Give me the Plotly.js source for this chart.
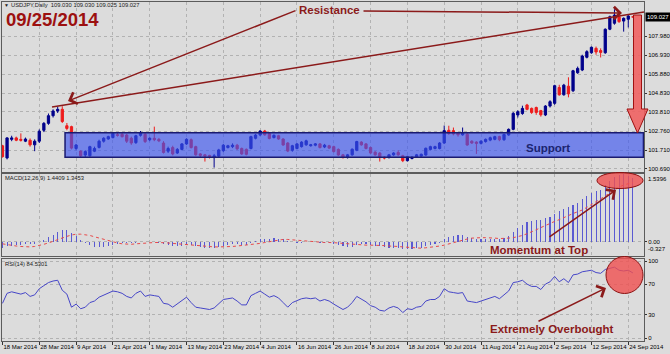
<!DOCTYPE html>
<html><head><meta charset="utf-8">
<script src="https://cdn.plot.ly/plotly-3.0.1.min.js"></script>
<style>html,body{margin:0;padding:0;background:#dcdcdc;}#chart{width:670px;height:354px;}</style>
</head><body><div id="chart"></div>
<script>
const tickLabels = ['18 Mar 2014','28 Mar 2014','9 Apr 2014','21 Apr 2014','1 May 2014','13 May 2014','23 May 2014','4 Jun 2014','16 Jun 2014','26 Jun 2014','8 Jul 2014','18 Jul 2014','30 Jul 2014','11 Aug 2014','21 Aug 2014','2 Sep 2014','12 Sep 2014','24 Sep 2014'];
const priceTicks = [107.98,106.93,105.88,104.83,103.81,102.76,101.71,100.69];

const open = [101.95,101.28,102.30,102.38,102.30,102.20,102.25,102.00,102.20,102.80,
103.18,103.60,103.86,103.95,103.05,103.00,101.80,101.66,101.44,101.40,
101.65,101.86,102.20,102.32,102.40,102.56,102.58,102.54,102.36,102.12,
102.52,102.58,102.28,102.36,102.30,102.10,101.65,101.85,101.55,101.75,
102.05,102.28,101.90,101.50,101.45,101.42,101.30,101.38,101.68,101.85,
101.90,101.98,101.80,101.75,101.80,102.36,102.54,102.76,102.62,102.40,
102.50,102.32,102.10,101.70,101.80,101.90,102.00,101.95,101.98,102.05,
101.88,101.95,101.90,101.75,101.45,101.30,101.45,101.70,102.15,102.05,
101.85,101.60,101.55,101.32,101.30,101.45,101.58,101.40,101.13,101.25,
101.35,101.38,101.44,101.75,101.80,101.80,102.10,102.80,102.78,102.65,
102.55,102.58,102.20,102.15,102.08,102.18,102.26,102.30,102.45,102.28,
102.54,102.85,103.64,103.72,104.19,104.00,104.05,103.88,103.64,104.13,
104.28,105.15,104.75,105.22,104.97,105.96,106.11,106.81,107.06,107.30,
107.18,107.06,108.35,108.68,109.04,108.80,108.90,109.030];
const high = [102.00,102.42,102.50,102.45,102.63,102.40,102.35,102.30,102.85,103.25,
103.72,103.95,104.10,104.12,103.20,103.05,102.05,101.70,101.70,101.95,
101.90,102.28,102.42,102.50,102.70,102.65,102.65,102.60,102.45,102.55,
102.76,102.65,102.42,103.00,102.38,102.20,101.90,101.95,101.82,102.10,
102.36,102.35,101.95,101.55,101.50,101.45,101.50,101.78,102.05,102.00,
102.08,102.05,101.85,101.80,102.50,102.60,102.80,102.82,102.68,102.58,
102.55,102.36,102.15,102.00,102.10,102.20,102.28,102.05,102.10,102.10,
102.05,102.00,101.95,101.80,101.50,101.50,101.80,102.22,102.20,102.10,
101.90,101.65,101.60,101.38,101.50,101.60,101.70,101.45,101.40,101.38,
101.50,101.52,101.85,101.95,101.95,102.15,103.06,103.05,102.95,102.70,
102.95,102.65,102.25,102.20,102.25,102.35,102.45,102.50,102.50,102.62,
102.90,103.80,103.90,104.15,104.25,104.05,104.10,103.92,104.18,104.45,
105.30,105.30,105.35,105.71,106.12,106.30,106.95,107.20,107.40,107.40,
107.30,108.40,109.10,109.45,109.10,109.00,109.12,109.030];
const low = [101.30,101.20,102.20,102.20,102.18,102.15,101.90,101.65,102.10,102.70,
103.10,103.50,103.75,103.20,102.80,101.75,101.70,101.30,101.30,101.35,
101.60,101.80,102.12,102.28,102.35,102.45,102.40,102.10,102.00,102.05,
102.45,102.10,102.20,102.20,102.15,101.52,101.55,101.42,101.50,101.70,
102.00,101.80,101.40,101.30,101.08,101.25,100.75,101.30,101.60,101.80,
101.82,101.72,101.45,101.42,101.75,102.30,102.48,102.50,102.30,102.35,
102.28,101.95,101.60,101.62,101.75,101.85,101.95,101.90,101.92,101.80,
101.82,101.78,101.58,101.40,101.25,101.25,101.40,101.65,101.95,101.75,
101.50,101.40,101.08,101.20,101.25,101.40,101.40,101.05,101.08,101.20,
101.30,101.32,101.40,101.70,101.75,101.75,102.05,102.55,102.52,102.45,
102.50,101.95,102.05,101.50,102.02,102.12,102.20,102.25,102.20,102.22,
102.50,102.80,103.50,103.65,103.90,103.70,103.65,103.55,103.58,104.05,
104.20,104.70,104.70,104.61,104.90,105.90,106.05,106.75,107.00,106.95,
106.80,107.00,108.30,108.60,108.70,108.22,108.45,109.025];
const close = [101.35,102.38,102.38,102.25,102.25,102.32,102.00,102.20,102.75,103.18,
103.60,103.86,103.95,103.28,102.90,101.82,101.99,101.40,101.63,101.90,
101.80,102.20,102.36,102.45,102.63,102.52,102.45,102.20,102.10,102.50,
102.68,102.18,102.36,102.28,102.22,101.58,101.80,101.50,101.75,102.05,
102.30,101.85,101.45,101.42,101.38,101.35,101.40,101.72,101.98,101.95,
101.98,101.78,101.50,101.48,102.45,102.54,102.76,102.55,102.35,102.52,
102.32,101.99,101.66,101.95,102.05,102.15,102.22,102.00,102.05,101.85,
101.98,101.82,101.63,101.44,101.30,101.45,101.76,102.18,102.00,101.80,
101.55,101.45,101.30,101.28,101.45,101.55,101.45,101.13,101.35,101.32,
101.45,101.48,101.81,101.90,101.90,102.10,102.78,102.62,102.60,102.55,
102.65,101.99,102.10,102.08,102.20,102.30,102.39,102.45,102.28,102.57,
102.85,103.73,103.82,104.00,103.95,103.78,103.78,103.65,104.13,104.37,
105.25,104.75,105.28,104.80,106.07,106.20,106.88,107.12,107.36,107.10,
107.08,108.35,109.04,109.13,108.77,108.95,109.08,109.027];

const macdMain = [-0.14,-0.11,-0.09,-0.08,-0.07,-0.06,-0.06,-0.05,-0.01,0.04,
0.10,0.16,0.22,0.26,0.27,0.19,0.12,0.04,-0.03,-0.08,
-0.12,-0.13,-0.12,-0.10,-0.07,-0.05,-0.04,-0.04,-0.04,-0.02,
0.00,-0.01,-0.01,-0.01,-0.02,-0.05,-0.07,-0.10,-0.10,-0.09,
-0.07,-0.08,-0.10,-0.12,-0.14,-0.15,-0.15,-0.13,-0.10,-0.08,
-0.06,-0.06,-0.07,-0.07,-0.03,0.01,0.05,0.07,0.07,0.08,
0.07,0.05,0.01,-0.01,-0.02,-0.02,-0.01,-0.01,-0.01,-0.02,
-0.02,-0.03,-0.05,-0.08,-0.10,-0.12,-0.12,-0.08,-0.06,-0.06,
-0.07,-0.09,-0.11,-0.13,-0.14,-0.14,-0.14,-0.16,-0.16,-0.16,
-0.15,-0.14,-0.10,-0.07,-0.05,-0.02,0.06,0.10,0.13,0.14,
0.15,0.11,0.08,0.06,0.05,0.05,0.06,0.07,0.07,0.09,
0.12,0.22,0.30,0.38,0.44,0.47,0.50,0.50,0.53,0.57,
0.62,0.70,0.75,0.78,0.84,0.88,0.96,1.04,1.11,1.15,
1.18,1.28,1.38,1.47,1.52,1.54,1.50,1.4409];
const macdSignal = [-0.05,-0.07,-0.09,-0.10,-0.11,-0.12,-0.12,-0.11,-0.09,-0.06,
-0.03,0.01,0.05,0.09,0.12,0.15,0.17,0.17,0.16,0.14,
0.11,0.08,0.05,0.02,-0.01,-0.03,-0.05,-0.06,-0.06,-0.05,
-0.04,-0.03,-0.03,-0.02,-0.02,-0.02,-0.03,-0.04,-0.05,-0.06,
-0.07,-0.08,-0.08,-0.09,-0.10,-0.11,-0.12,-0.12,-0.12,-0.12,
-0.11,-0.10,-0.09,-0.08,-0.07,-0.05,-0.04,-0.02,0.00,0.02,
0.04,0.05,0.05,0.04,0.03,0.02,0.01,0.00,-0.01,-0.01,
-0.02,-0.02,-0.02,-0.03,-0.04,-0.05,-0.06,-0.07,-0.08,-0.08,
-0.08,-0.08,-0.09,-0.09,-0.10,-0.10,-0.11,-0.12,-0.13,-0.14,
-0.14,-0.15,-0.14,-0.13,-0.12,-0.10,-0.08,-0.05,-0.02,0.01,
0.04,0.06,0.08,0.09,0.09,0.09,0.09,0.08,0.07,0.07,
0.08,0.09,0.11,0.14,0.18,0.22,0.27,0.32,0.37,0.41,
0.46,0.50,0.55,0.59,0.64,0.68,0.72,0.78,0.84,0.91,
0.97,1.04,1.11,1.18,1.24,1.29,1.32,1.3453];
const rsi = [45,58,60,58,57,59,54,56,64,68,
72,74,75,62,57,40,44,38,40,46,
48,53,56,58,61,60,58,54,52,58,
61,54,56,55,54,45,44,40,44,49,
53,46,40,39,38,37,39,45,50,51,
52,48,43,43,55,58,61,57,53,55,
52,46,40,46,49,51,52,51,52,48,
50,48,44,40,37,40,46,54,51,47,
42,40,36,35,39,41,39,33,38,37,
40,41,48,50,50,54,64,60,59,58,
59,48,47,46,48,50,52,54,51,56,
61,72,73,75,70,67,67,63,70,73,
80,73,77,72,82,83,86,87,88,85,
84,89,91,92,88,87,88,84.5301];

const idx = close.map((_, i) => i);
const tickIdx = tickLabels.map((_, k) => k * 8);

// layout geometry (pixels)
const L = 2, R = 26, T = 2, B = 13, W = 670, H = 354;
const PW = W - L - R, PH = H - T - B;
const px = x => (x - L) / PW;
const py = y => (H - B - y) / PH;
const XR = [-0.1, 139.42];
const FONT = 'Liberation Sans, Arial, sans-serif';
const DR = '#8b1a1a';
const gridCol = '#b2b2b2';
const lineCol = '#5c5c5c';

const xBase = {range: XR, showgrid: true, gridcolor: gridCol, griddash: 'dot', gridwidth: 1,
  tickmode: 'array', tickvals: tickIdx, ticktext: tickLabels, zeroline: false, tickangle: 0,
  showline: true, mirror: true, linecolor: lineCol, linewidth: 1, fixedrange: true};
const yBase = {side: 'right', showgrid: true, gridcolor: gridCol, griddash: 'dot', gridwidth: 1,
  zeroline: false, showline: true, mirror: true, linecolor: lineCol, linewidth: 1,
  ticks: 'outside', ticklen: 2, tickcolor: '#333', tickfont: {family: FONT, size: 6, color: '#000'}, fixedrange: true};

const traces = [
  {type: 'candlestick', x: idx, open: open, high: high, low: low, close: close,
   xaxis: 'x', yaxis: 'y', whiskerwidth: 0, hoverinfo: 'skip',
   increasing: {line: {color: '#00008b', width: 1}, fillcolor: '#00008b'},
   decreasing: {line: {color: '#ee1c1c', width: 1}, fillcolor: '#ee1c1c'}},
  {type: 'bar', x: idx, y: macdMain, xaxis: 'x2', yaxis: 'y2', width: 0.24,
   marker: {color: '#5a5ad2', line: {width: 0}}, hoverinfo: 'skip'},
  {type: 'scatter', mode: 'lines', x: idx, y: macdSignal, xaxis: 'x2', yaxis: 'y2',
   line: {color: '#e84a4a', dash: 'dot', width: 1}, hoverinfo: 'skip'},
  {type: 'scatter', mode: 'lines', x: idx, y: rsi, xaxis: 'x3', yaxis: 'y3',
   line: {color: '#4646c8', width: 1}, hoverinfo: 'skip'}
];

const arrowPath = (() => {
  const pts = [[633.5,15],[641.5,15],[641.5,109],[648,109],[637.5,133],[627,109],[633.5,109]];
  return 'M' + pts.map(p => px(p[0]).toFixed(5) + ',' + py(p[1]).toFixed(5)).join(' L') + ' Z';
})();

const shapes = [
  {type: 'rect', xref: 'x', yref: 'y', x0: 13.6, x1: 139.3, y0: 101.32, y1: 102.67,
   fillcolor: 'rgba(60,85,240,0.65)', line: {color: '#1a1a70', width: 1.5}, layer: 'above'},
  {type: 'line', xref: 'paper', yref: 'paper', x0: px(52), y0: py(107), x1: px(644), y1: py(12),
   line: {color: DR, width: 1.5}, layer: 'above'},
  {type: 'path', xref: 'paper', yref: 'paper', path: arrowPath,
   fillcolor: 'rgba(240,95,95,0.88)', line: {color: '#a01010', width: 1}, layer: 'above'},
  {type: 'circle', xref: 'paper', yref: 'paper', x0: px(597), x1: px(643), y0: py(172.5), y1: py(188.5),
   fillcolor: 'rgba(240,80,80,0.8)', line: {color: '#8b1010', width: 1}, layer: 'above'},
  {type: 'circle', xref: 'paper', yref: 'paper', x0: px(606), x1: px(643), y0: py(256.5), y1: py(293.5),
   fillcolor: 'rgba(240,80,80,0.8)', line: {color: '#8b1010', width: 1}, layer: 'above'}
];

const txt = (x, y, text, size, color, xanchor, extra) => Object.assign({
  xref: 'paper', yref: 'paper', x: px(x), y: py(y), text: text, showarrow: false,
  xanchor: xanchor || 'left', yanchor: 'middle', font: {family: FONT, size: size, color: color}
}, extra || {});
const arrow = (hx, hy, tx, ty) => ({xref: 'paper', yref: 'paper', x: px(hx), y: py(hy),
  ax: tx - hx, ay: ty - hy, axref: 'pixel', ayref: 'pixel', text: '', showarrow: true,
  arrowhead: 4, arrowsize: 1.6, arrowwidth: 1.5, arrowcolor: DR, standoff: 0, startstandoff: 0});

const annotations = [
  txt(2, 5, '▼', 5, '#222'),
  txt(9, 5, 'USDJPY,Daily&nbsp;&nbsp;109.030 109.030 109.025 109.027', 5.8, '#222'),
  txt(4, 19, '<b>09/25/2014</b>', 18.5, '#9c1010'),
  txt(330, 10, '<b>Resistance</b>', 11.5, DR, 'center'),
  txt(548, 148, '<b>Support</b>', 11.5, '#1b2470', 'center'),
  txt(3, 178, 'MACD(12,26,9) 1.4409 1.3453', 5.8, '#222'),
  txt(488, 250, '<b>Momentum at Top</b>', 11.5, DR),
  txt(3, 264, 'RSI(14) 84.5301', 5.8, '#222'),
  txt(488, 329, '<b>Extremely Overbought</b>', 11.5, DR),
  arrow(68, 101, 297, 10),
  arrow(622, 13, 362, 11),
  arrow(616, 190, 548, 238),
  arrow(606, 288, 537, 322),
  {xref: 'paper', yref: 'y', x: 1, y: 109.027, xanchor: 'left', yanchor: 'middle', xshift: 1,
   text: '109.027', showarrow: false, bgcolor: '#000', borderpad: 1,
   font: {family: FONT, size: 6, color: '#fff'}},
  {xref: 'paper', yref: 'y2', x: 1, y: 1.5396, xanchor: 'left', yanchor: 'top', xshift: 2,
   text: '1.5396', showarrow: false, font: {family: FONT, size: 6, color: '#000'}},
  {xref: 'paper', yref: 'y2', x: 1, y: -0.327, xanchor: 'left', yanchor: 'bottom', xshift: 2, yshift: 2,
   text: '-0.327', showarrow: false, font: {family: FONT, size: 6, color: '#000'}}
];

const layout = {
  width: W, height: H, margin: {l: L, r: R, t: T, b: B, pad: 0},
  paper_bgcolor: '#dcdcdc', plot_bgcolor: '#dcdcdc', showlegend: false, hovermode: false,
  bargap: 0,
  xaxis: Object.assign({}, xBase, {anchor: 'y', showticklabels: false, ticks: '', rangeslider: {visible: false}}),
  xaxis2: Object.assign({}, xBase, {anchor: 'y2', matches: 'x', showticklabels: false, ticks: ''}),
  xaxis3: Object.assign({}, xBase, {anchor: 'y3', matches: 'x', showticklabels: true, ticks: 'outside', ticklen: 3,
    tickcolor: '#333', ticklabelposition: 'outside right', tickfont: {family: FONT, size: 6, color: '#000'}}),
  yaxis: Object.assign({}, yBase, {domain: [py(172), 1], range: [100.507, 109.848],
    tickmode: 'array', tickvals: priceTicks, ticktext: priceTicks.map(v => v.toFixed(3))}),
  yaxis2: Object.assign({}, yBase, {domain: [py(256), py(174)], range: [-0.327, 1.5396],
    tickmode: 'array', tickvals: [0], ticktext: ['0.00']}),
  yaxis3: Object.assign({}, yBase, {domain: [0, py(259)], range: [-3.9, 102.6],
    tickmode: 'array', tickvals: [0, 30, 70, 100], ticktext: ['0', '30', '70', '100']}),
  shapes: shapes, annotations: annotations
};

Plotly.newPlot('chart', traces, layout, {displayModeBar: false, staticPlot: true});
</script></body></html>
